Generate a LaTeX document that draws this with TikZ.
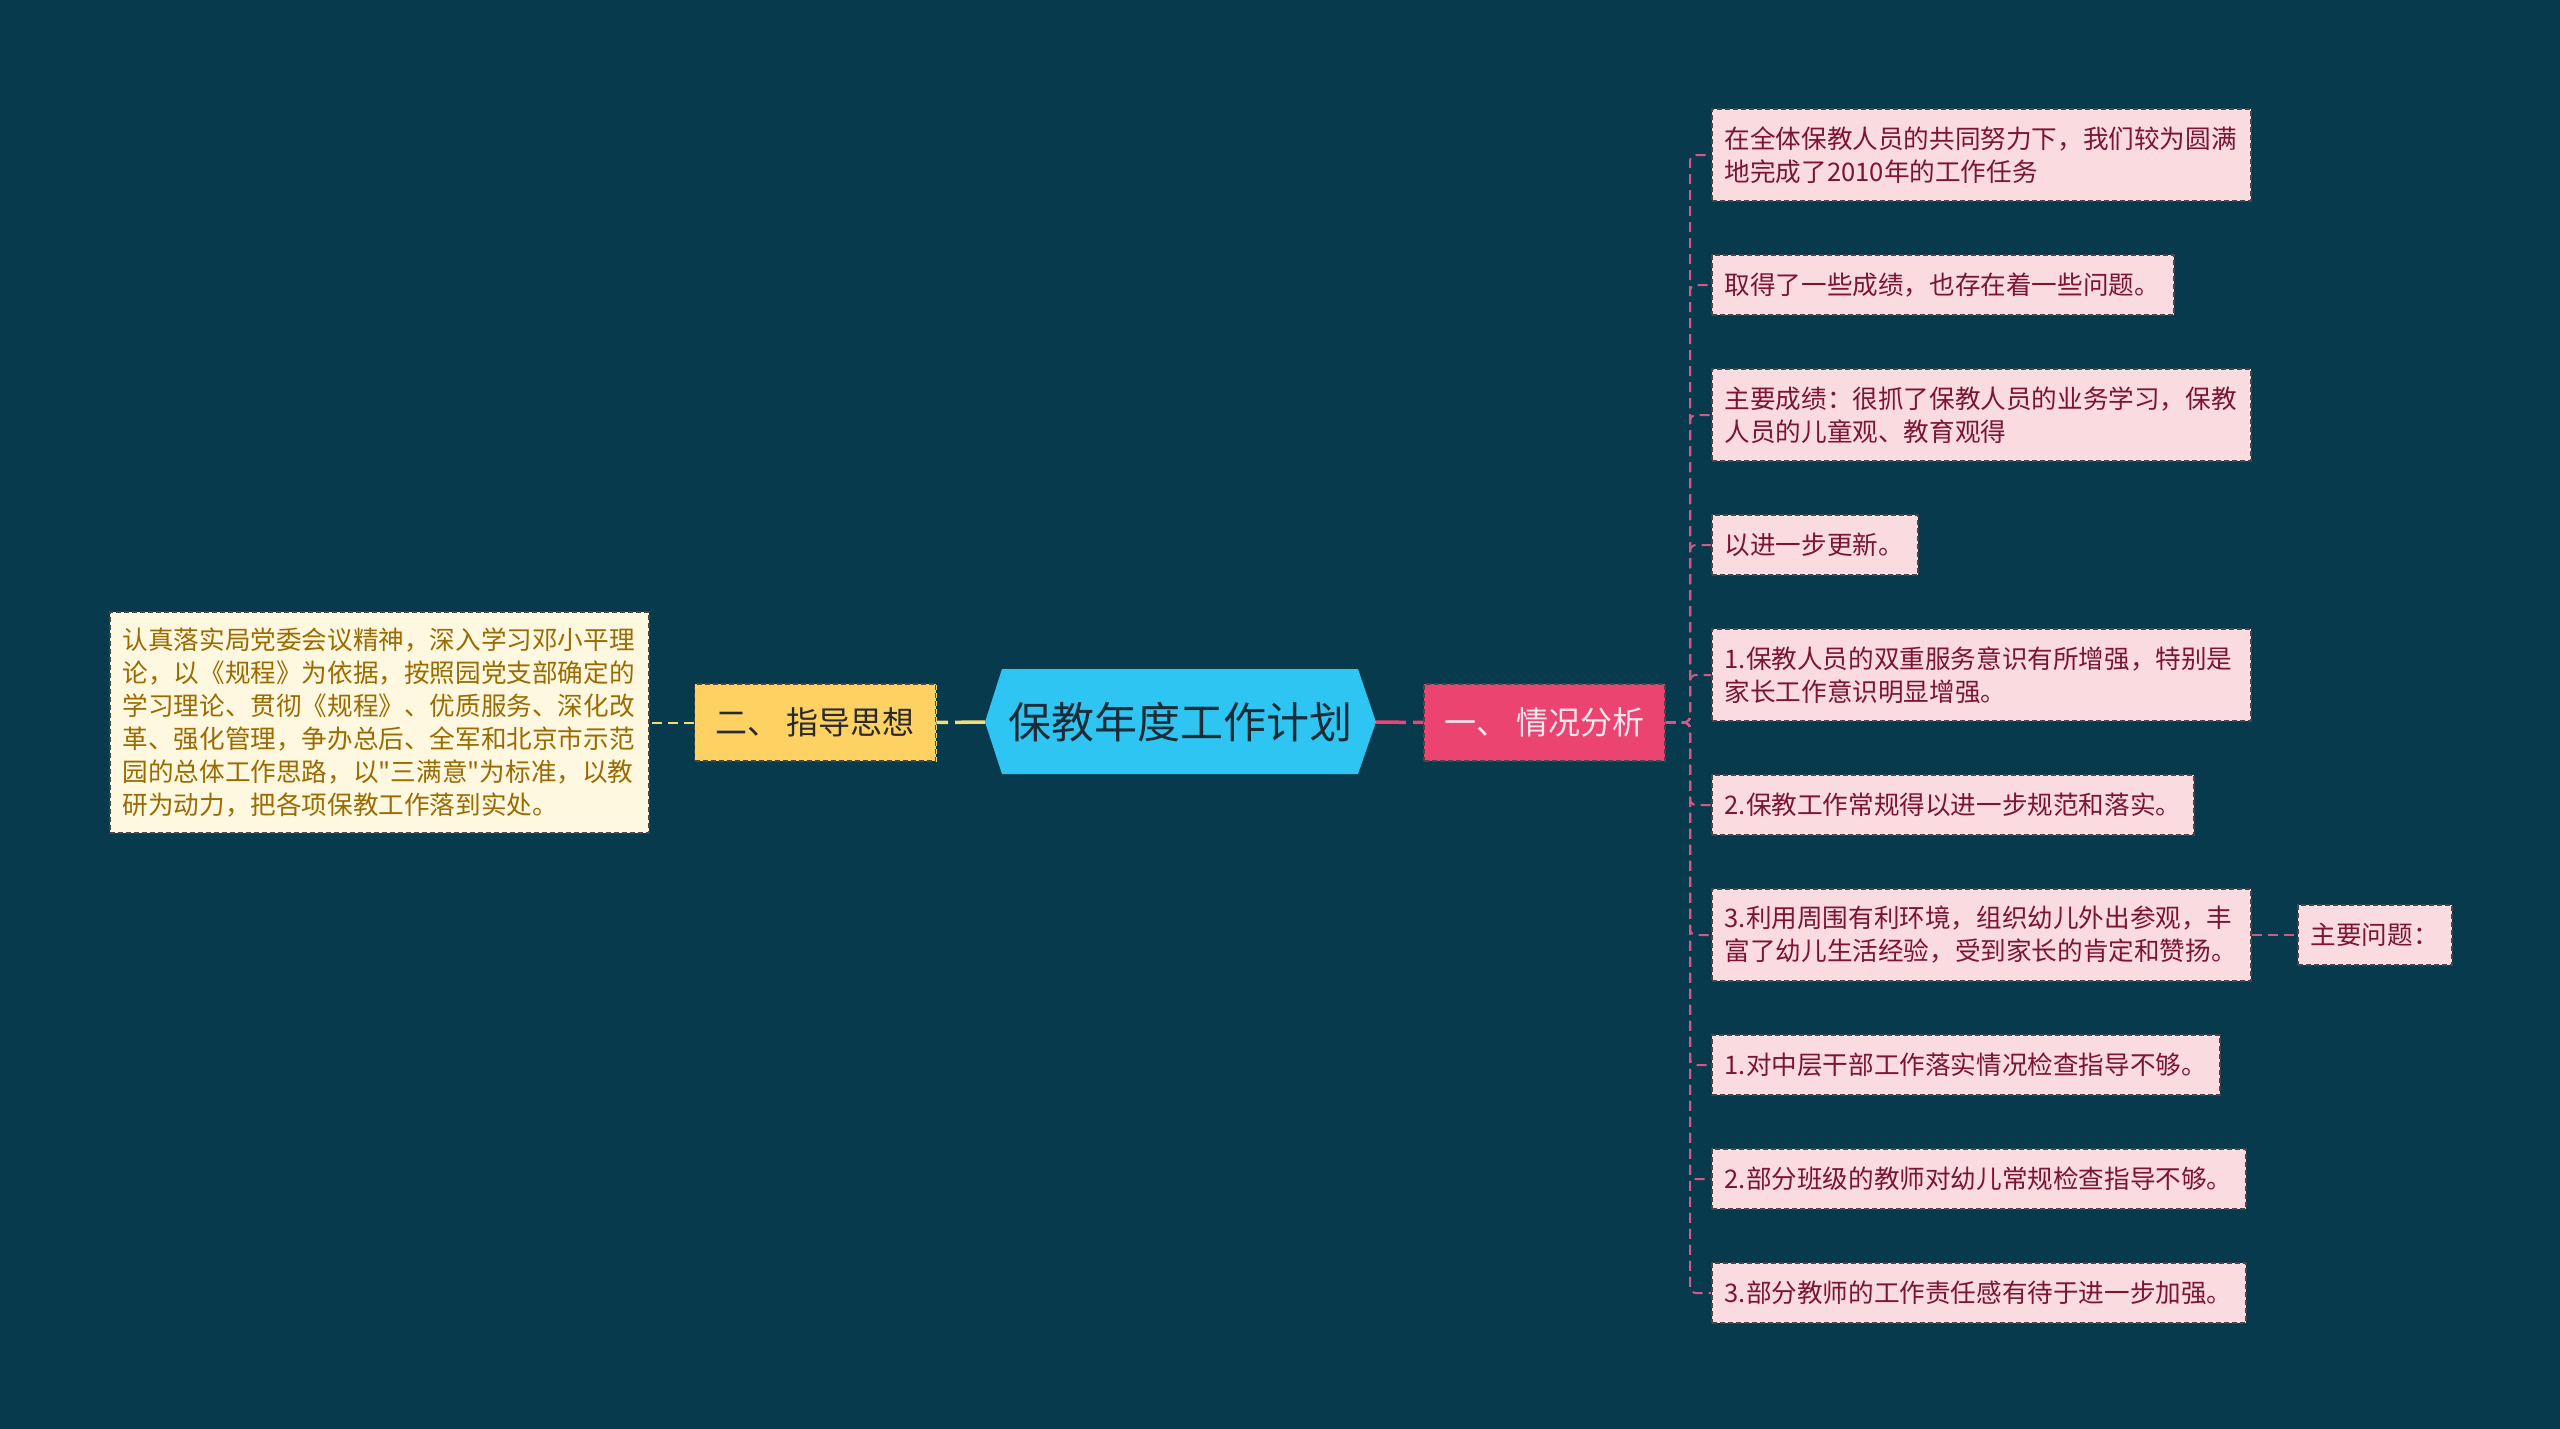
\documentclass[tikz,border=0pt]{standalone}
\usepackage{fontspec}
\setmainfont{Noto Sans CJK SC}
\newfontfamily\plainq{Noto Sans CJK SC}
\usetikzlibrary{positioning}
\definecolor{bg}{HTML}{073A4C}
\definecolor{ctrfill}{HTML}{2EC5F2}
\definecolor{ctrtext}{HTML}{1B2B38}
\definecolor{onefill}{HTML}{EC4470}
\definecolor{onetext}{HTML}{FDE8EE}
\definecolor{twofill}{HTML}{FDD263}
\definecolor{twotext}{HTML}{2A2A2A}
\definecolor{lfill}{HTML}{FEF8E1}
\definecolor{ltext}{HTML}{9C6B00}
\definecolor{leaffill}{HTML}{FADBE0}
\definecolor{leaftext}{HTML}{7B1530}
\definecolor{dashdark}{HTML}{4A4448}
\definecolor{pinkline}{HTML}{D1598A}
\definecolor{yelline}{HTML}{F1DE78}
\tikzset{
  x=1pt, y=-1pt,
  boxborder/.style={preaction={draw=#1, line width=2pt}, draw=dashdark, dash pattern=on 5pt off 3pt, line width=1.5pt},
  leaf/.style={rectangle, fill=leaffill, boxborder=white!70!leaffill,
    text=leaftext, anchor=west, align=left, inner xsep=13pt, inner ysep=0pt,
    font=\fontsize{25.6}{33}\selectfont},
  branch/.style={rectangle, inner xsep=0pt,
    inner ysep=0pt, minimum width=241pt, minimum height=77pt, font=\fontsize{32}{38}\selectfont},
  pinkconn/.style={draw=pinkline, line width=2pt, dash pattern=on 10pt off 6pt},
}
\begin{document}
\begin{tikzpicture}
\fill[bg] (0,0) rectangle (2560,1429);
\useasboundingbox (0,0) rectangle (2560,1429);

% central hexagon
\coordinate (ctrL) at (985,722);
\coordinate (ctrR) at (1376,722);
\fill[ctrfill] (ctrL) -- (1002,669) -- (1358,669) -- (ctrR) -- (1358,774) -- (1002,774) -- cycle;
\node[text=ctrtext, font=\fontsize{43}{50}\selectfont] (ctr) at (1180.5,722) {保教年度工作计划};

% main branches
\node[branch, fill=onefill, boxborder=onefill, text=onetext] (one) at (1544.5,722.5) {一、 情况分析};
\node[branch, fill=twofill, boxborder=twofill, text=twotext] (two) at (815,722.5) {二、 指导思想};

% left text box
\node[rectangle, fill=lfill, boxborder=white!60!lfill,
  text=ltext, align=left, anchor=west, inner xsep=13pt, inner ysep=0pt,
  text width=513pt, minimum height=221pt, font=\fontsize{25.6}{33}\selectfont] (lbox) at (109,722.5)
{认真落实局党委会议精神，深入学习邓小平理\\论，以《规程》为依据，按照园党支部确定的\\学习理论、贯彻《规程》、优质服务、深化改\\革、强化管理，争办总后、全军和北京市示范\\园的总体工作思路，以{\plainq"}三满意{\plainq"}为标准，以教\\研为动力，把各项保教工作落到实处。};

% right leaves
\node[leaf, text width=513pt, minimum height=92pt] (b1) at (1711,155) {在全体保教人员的共同努力下，我们较为圆满\\地完成了2010年的工作任务};
\node[leaf, text width=436pt, minimum height=60pt] (b2) at (1711,285) {取得了一些成绩，也存在着一些问题。};
\node[leaf, text width=513pt, minimum height=92pt] (b3) at (1711,415) {主要成绩：很抓了保教人员的业务学习，保教\\人员的儿童观、教育观得};
\node[leaf, text width=180pt, minimum height=60pt] (b4) at (1711,545) {以进一步更新。};
\node[leaf, text width=513pt, minimum height=92pt] (b5) at (1711,675) {1.保教人员的双重服务意识有所增强，特别是\\家长工作意识明显增强。};
\node[leaf, text width=456pt, minimum height=60pt] (b6) at (1711,805) {2.保教工作常规得以进一步规范和落实。};
\node[leaf, text width=513pt, minimum height=92pt] (b7) at (1711,935) {3.利用周围有利环境，组织幼儿外出参观，丰\\富了幼儿生活经验，受到家长的肯定和赞扬。};
\node[leaf, text width=482pt, minimum height=60pt] (b8) at (1711,1065) {1.对中层干部工作落实情况检查指导不够。};
\node[leaf, text width=508pt, minimum height=60pt] (b9) at (1711,1179) {2.部分班级的教师对幼儿常规检查指导不够。};
\node[leaf, text width=508pt, minimum height=60pt] (b10) at (1711,1293) {3.部分教师的工作责任感有待于进一步加强。};
\node[leaf, text width=128pt, minimum height=60pt] (mq) at (2297,935) {主要问题：};

% connectors
\draw[draw=yelline, line width=3.5pt, dash pattern=on 30pt off 7pt] (ctrL) -- (two.east);
\draw[draw=onefill, line width=3.5pt, dash pattern=on 30pt off 7pt] (ctrR) -- (one.west);
\draw[draw=yelline, line width=2pt, dash pattern=on 10pt off 6pt] (two.west) -- (lbox.east);
\coordinate (tr) at (1690,722.5);
\foreach \b in {b1,b2,b3,b4,b5,b6,b7,b8,b9,b10}{
  \draw[pinkconn, rounded corners=6pt] (one.east) -- (tr) |- (\b.west);
}
\draw[pinkconn] (b7.east) -- (mq.west);
\end{tikzpicture}
\end{document}
